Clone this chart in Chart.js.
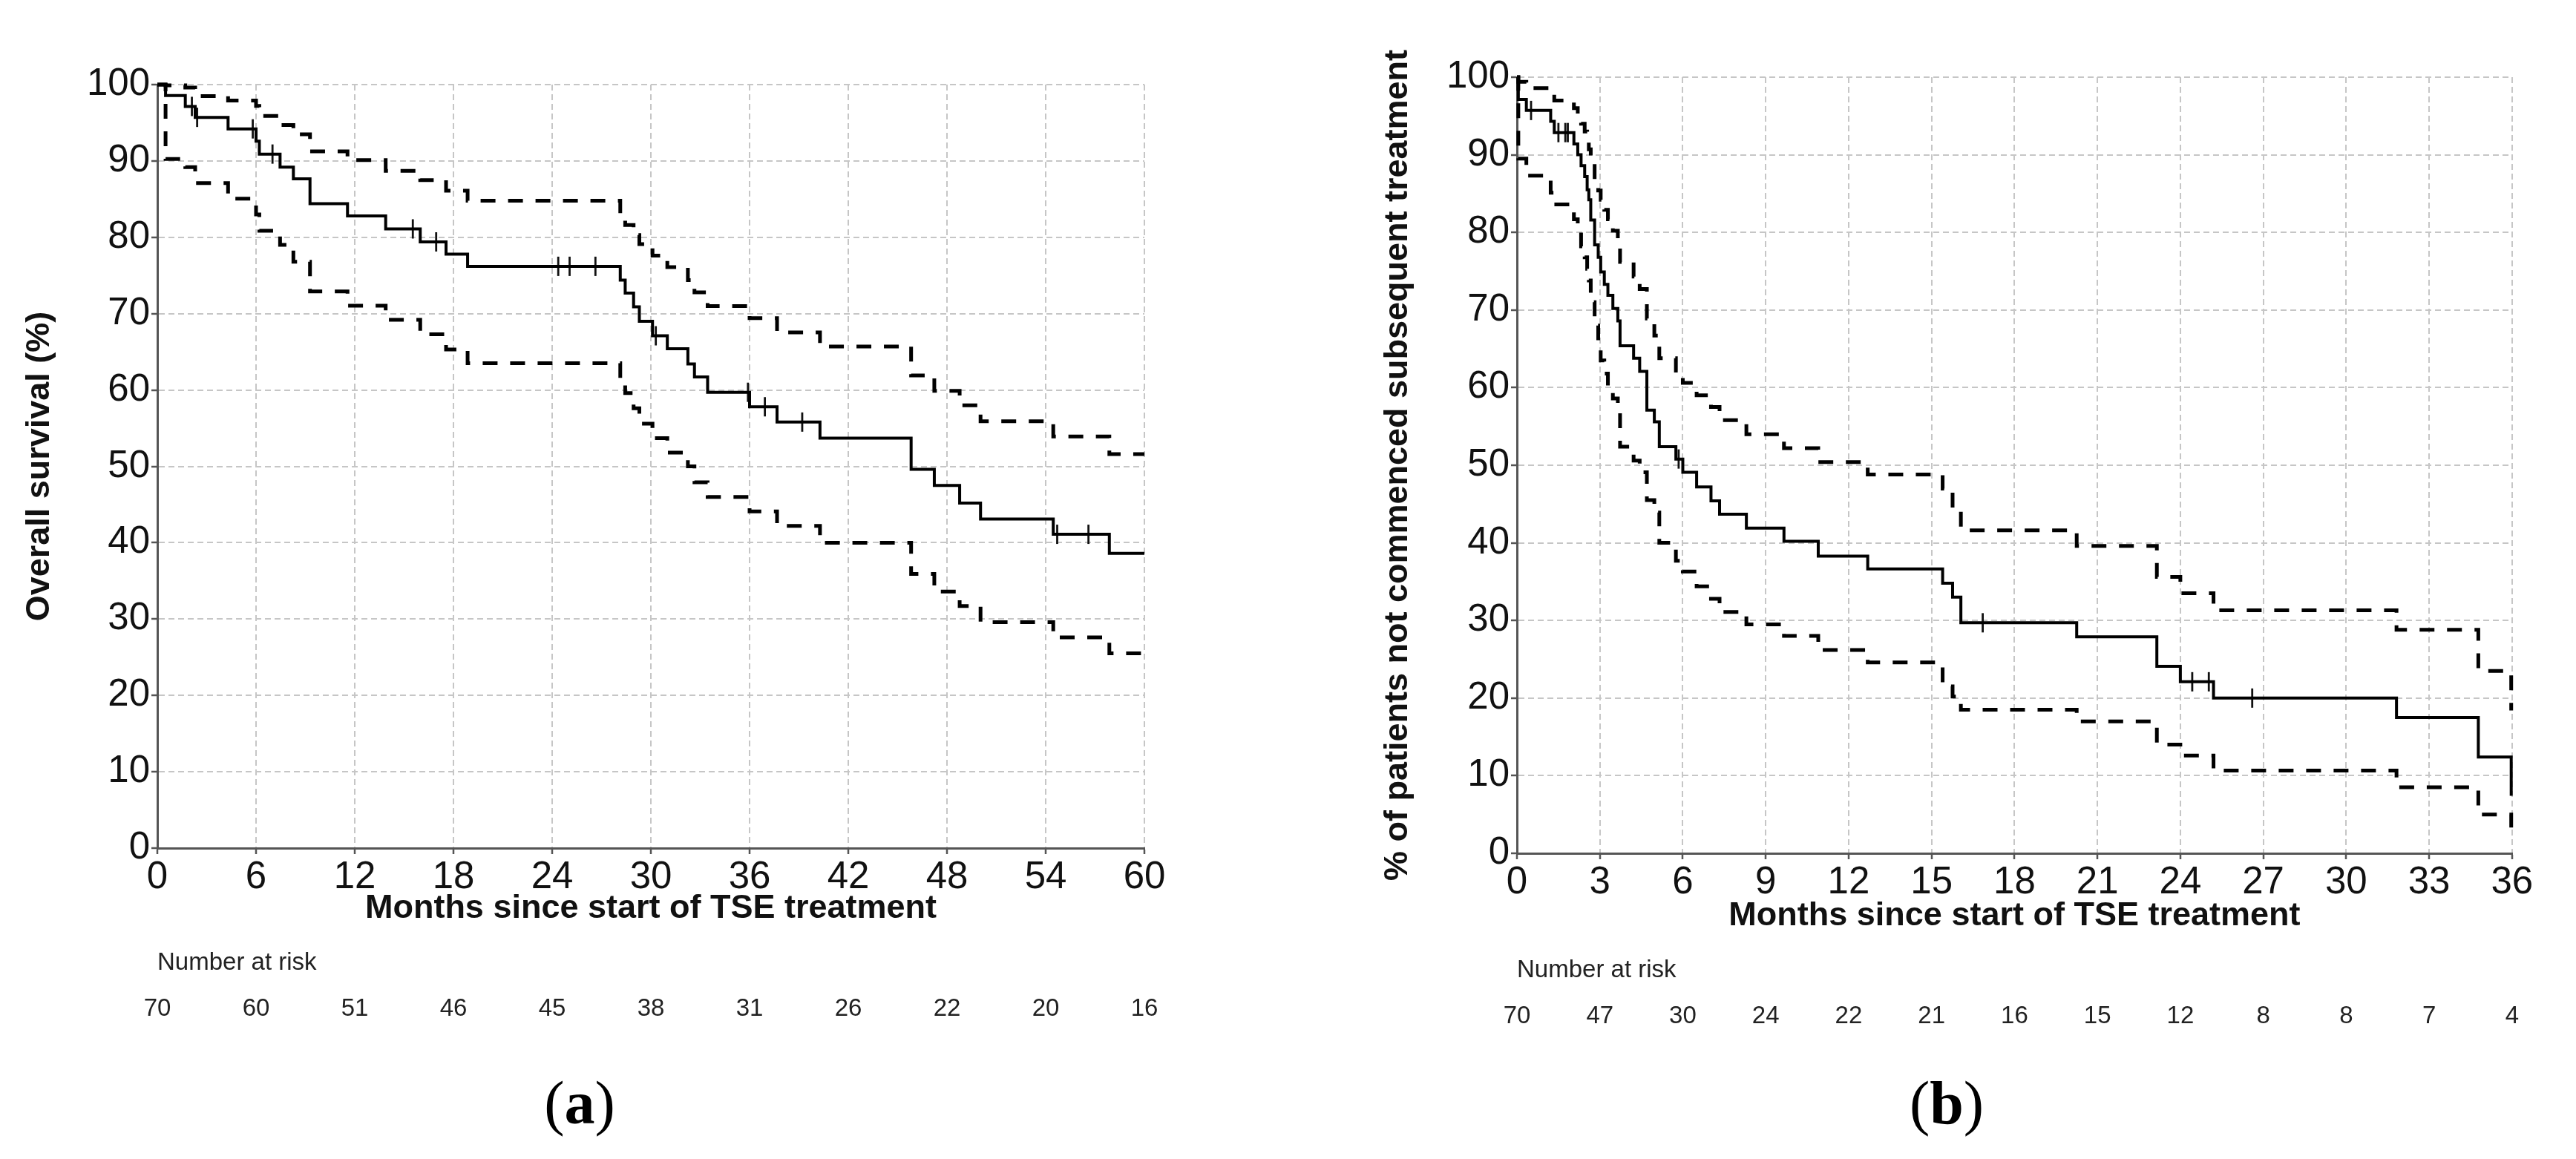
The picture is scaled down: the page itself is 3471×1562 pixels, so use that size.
<!DOCTYPE html>
<html>
<head>
<meta charset="utf-8">
<title>Survival after TSE treatment</title>
<script src="https://cdn.jsdelivr.net/npm/chart.js@4.4.1/dist/chart.umd.min.js"></script>
<style>
  html, body { margin: 0; padding: 0; background: #fff; }
  #page { position: relative; width: 3471px; height: 1562px; overflow: hidden; background: #fff; }
  canvas { position: absolute; top: 0; }
  #chart-a { left: 0; }
  #chart-b { left: 1740px; }
  .panel-label {
    position: absolute; top: 1446px;
    font-family: "Liberation Serif", "Times New Roman", serif;
    font-size: 82px; line-height: 1; color: #000;
    transform: translateX(-50%); white-space: nowrap;
  }
</style>
</head>
<body>
<div id="page">
  <canvas id="chart-a" width="1740" height="1420"></canvas>
  <canvas id="chart-b" width="1731" height="1420"></canvas>
  <div class="panel-label" style="left:781px">(<b>a</b>)</div>
  <div class="panel-label" style="left:2623px">(<b>b</b>)</div>
</div>
<script>
// (a) overall survival, months since start of TSE
const osTime  = [0, 0.5, 1.7, 2.3, 4.3, 6.0, 6.2, 7.46, 8.27, 9.28, 11.56, 13.88, 15.98, 17.55, 18.86,
                 28.14, 28.44, 28.95, 29.3, 30.1, 31.0, 32.25, 32.65, 33.45, 36.0, 37.67, 40.28,
                 45.82, 47.23, 48.77, 50.04, 54.46, 57.87, 60];
const osEst   = [100, 98.57, 97.14, 95.71, 94.2, 92.6, 90.9, 89.2, 87.65, 84.4, 82.8, 81.1, 79.4, 77.8, 76.2,
                 74.4, 72.7, 70.9, 69.0, 67.1, 65.4, 63.4, 61.7, 59.7, 57.8, 55.8, 53.7,
                 49.6, 47.5, 45.2, 43.1, 41.1, 38.6, 38.6];
const osUpper = [100, 99.9, 99.6, 98.5, 97.9, 97.2, 95.9, 94.7, 93.5, 91.25, 90.1, 88.7, 87.5, 86.1, 84.8,
                 82.9, 81.6, 80.3, 79.1, 77.6, 76.1, 74.4, 72.8, 71.0, 69.4, 67.55, 65.7,
                 61.9, 59.9, 58.0, 55.9, 53.9, 51.6, 51.6];
const osLower = [100, 90.25, 89.2, 87.1, 85.05, 83.0, 80.85, 79.0, 76.8, 72.9, 71.05, 69.2, 67.3, 65.3, 63.5,
                 61.5, 59.6, 57.6, 55.6, 53.7, 51.8, 50.0, 47.9, 46.0, 44.1, 42.2, 40.0,
                 35.9, 33.6, 31.7, 29.6, 27.6, 25.5, 25.5];
const osCensorTime = [2.1, 2.42, 5.8, 7.0, 15.53, 16.95, 24.37, 25.06, 26.63, 30.3, 35.9, 36.93, 39.2, 54.7, 56.6];
const osCensorEst  = [97.14, 95.71, 94.2, 90.9, 81.1, 79.4, 76.2, 76.2, 76.2, 67.1, 59.7, 57.8, 55.8, 41.1, 41.1];
const osRisk = [70, 60, 51, 46, 45, 38, 31, 26, 22, 20, 16];

// (b) not commenced subsequent treatment
const stTime  = [0, 0.05, 0.34, 1.22, 1.35, 2.06, 2.2, 2.32, 2.45, 2.54, 2.6, 2.67, 2.81, 2.94, 3.03,
                 3.16, 3.29, 3.47, 3.65, 3.73, 4.22, 4.44, 4.70, 4.97, 5.15, 5.75, 6.0, 6.5, 7.02,
                 7.33, 8.3, 9.66, 10.9, 12.69, 15.4, 15.76, 16.06, 20.25, 23.15, 24.0, 25.2,
                 31.82, 34.78, 35.97];
const stEst   = [100, 97.14, 95.71, 94.3, 92.86, 91.4, 90.0, 88.6, 87.2, 85.5, 84.2, 81.6, 78.4, 76.8, 74.9,
                 73.3, 71.9, 70.2, 68.6, 65.4, 63.8, 62.1, 57.1, 55.6, 52.4, 50.8, 49.1, 47.2, 45.4,
                 43.7, 41.9, 40.2, 38.3, 36.65, 34.8, 33.0, 29.7, 27.9, 24.1, 22.1, 20.0,
                 17.5, 12.4, 7.4];
const stUpper = [100, 99.4, 98.6, 97.8, 97.0, 96.0, 95.0, 94.0, 93.0, 91.7, 90.7, 89.5, 86.7, 85.4, 84.2,
                 82.9, 81.7, 80.2, 78.5, 76.2, 74.3, 72.7, 68.9, 66.7, 63.8, 62.2, 60.6, 59.0, 57.5,
                 55.8, 54.0, 52.2, 50.4, 48.8, 47.0, 44.5, 41.6, 39.6, 35.6, 33.5, 31.3,
                 28.8, 23.5, 18.4];
const stLower = [100, 89.5, 87.3, 85.1, 83.6, 81.7, 80.0, 78.2, 76.8, 75.3, 73.8, 71.0, 68.0, 66.0, 63.5,
                 61.8, 60.2, 58.6, 57.3, 52.4, 50.6, 49.1, 45.5, 43.9, 40.0, 37.7, 36.3, 34.4, 32.8,
                 31.1, 29.5, 28.0, 26.2, 24.6, 21.5, 20.2, 18.5, 17.0, 14.0, 12.6, 10.65,
                 8.5, 5.0, 2.0];
const stCensorTime = [0.51, 1.5, 1.75, 1.84, 5.85, 16.85, 24.43, 25.03, 26.6];
const stCensorEst  = [95.71, 92.86, 92.86, 92.86, 50.8, 29.7, 22.1, 22.1, 20.0];
const stRisk = [70, 47, 30, 24, 22, 21, 16, 15, 12, 8, 8, 7, 4];

const SANS = "'Liberation Sans', Arial, sans-serif";
const GRID = '#c6c6c6';
const AXIS = '#555';

function pts(xs, ys) {
    return xs.map((x, i) => ({ x: x, y: ys[i] }));
}

function kmChart(id, p) {
    const ctx = document.getElementById(id).getContext('2d');
    const curve = (data, dashed) => ({
        type: 'line',
        data: data,
        stepped: true,
        borderColor: '#000',
        borderWidth: dashed ? 5 : 4,
        borderDash: dashed ? [20, 17] : [],
        pointRadius: 0,
        fill: false,
        clip: false
    });

    return new Chart(ctx, {
        type: 'line',
        data: {
            datasets: [
                curve(pts(p.time, p.est), false),
                {
                    type: 'scatter',
                    data: pts(p.censorTime, p.censorEst),
                    showLine: false,
                    pointStyle: 'line',
                    pointRotation: 90,
                    pointRadius: 13,
                    pointBorderWidth: 2.8,
                    pointBorderColor: '#111',
                    clip: false
                },
                curve(pts(p.time, p.upper), true),
                curve(pts(p.time, p.lower), true)
            ]
        },
        options: {
            responsive: false,
            animation: false,
            devicePixelRatio: 1,
            events: [],
            layout: { padding: { left: 0, top: p.padTop, right: p.padRight, bottom: p.padBottom } },
            plugins: { legend: { display: false }, tooltip: { enabled: false } },
            scales: {
                x: {
                    type: 'linear', position: 'bottom', weight: 0,
                    min: 0, max: p.xMax,
                    ticks: { stepSize: p.xStep, autoSkip: false, maxRotation: 0, padding: 1,
                             color: '#111', font: { family: SANS, size: 51 } },
                    grid: { color: GRID, lineWidth: 2, tickLength: 8, tickColor: AXIS, tickWidth: 2.5 },
                    border: { color: AXIS, width: 3, dash: [8, 5] },
                    title: { display: true, text: 'Months since start of TSE treatment', color: '#111',
                             font: { family: SANS, size: 45, weight: 'bold' },
                             padding: { top: 0, bottom: p.xTitlePad } },
                    afterFit: s => { s.height = 115; }
                },
                xr: {
                    type: 'linear', position: 'bottom', weight: 1,
                    min: 0, max: p.xMax,
                    ticks: { stepSize: p.xStep, autoSkip: false, maxRotation: 0, padding: p.riskPad,
                             color: '#222', font: { family: SANS, size: 33 },
                             callback: v => p.risk[Math.round(v / p.xStep)] },
                    grid: { display: false },
                    border: { display: false },
                    title: { display: true, text: 'Number at risk', align: 'start', color: '#222',
                             font: { family: SANS, size: 33 },
                             padding: { top: 0, bottom: p.riskTitlePad } },
                    afterFit: s => { s.height = 140; }
                },
                y: {
                    type: 'linear', min: 0, max: 100,
                    ticks: { stepSize: 10, padding: 2, color: '#111', font: { family: SANS, size: 51 } },
                    grid: { color: GRID, lineWidth: 2, tickLength: 8, tickColor: AXIS, tickWidth: 2.5 },
                    border: { color: AXIS, width: 3, dash: [8, 5] },
                    title: { display: true, text: p.yTitle, color: '#111',
                             font: { family: SANS, size: 45, weight: 'bold' },
                             padding: { top: p.yTitlePad, bottom: 0 } },
                    afterFit: s => { s.width = p.yWidth; }
                }
            }
        }
    });
}

kmChart('chart-a', {
    time: osTime, est: osEst, upper: osUpper, lower: osLower,
    censorTime: osCensorTime, censorEst: osCensorEst, risk: osRisk,
    xMax: 60, xStep: 6, yTitle: 'Overall survival (%)',
    padTop: 114, padRight: 198, padBottom: 22, yWidth: 212, yTitlePad: 27,
    xTitlePad: 6, riskPad: 74, riskTitlePad: 80
});

kmChart('chart-b', {
    time: stTime, est: stEst, upper: stUpper, lower: stLower,
    censorTime: stCensorTime, censorEst: stCensorEst, risk: stRisk,
    xMax: 36, xStep: 3, yTitle: '% of patients not commenced subsequent treatment',
    padTop: 104, padRight: 72, padBottom: 15, yWidth: 304, yTitlePad: 117,
    xTitlePad: 3, riskPad: 77, riskTitlePad: 77
});
</script>
</body>
</html>
